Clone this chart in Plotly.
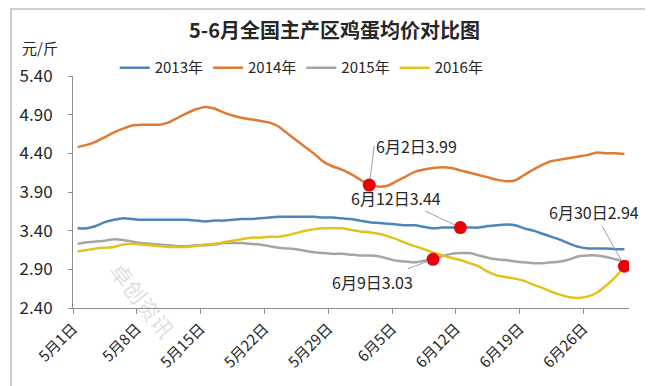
import plotly.graph_objects as go
import pandas as pd

# ---- data ----
dates = [f"{d.month}月{d.day}日" for d in pd.date_range("2016-05-01", "2016-06-30")]
tick_labels = ["5月1日", "5月8日", "5月15日", "5月22日", "5月29日",
               "6月5日", "6月12日", "6月19日", "6月26日"]
y_ticks = [2.40, 2.90, 3.40, 3.90, 4.40, 4.90, 5.40]

s2013 = [3.43, 3.43, 3.46, 3.51, 3.54, 3.56, 3.55, 3.54, 3.54, 3.54,
         3.54, 3.54, 3.54, 3.53, 3.52, 3.53, 3.53, 3.54, 3.55, 3.55,
         3.56, 3.57, 3.58, 3.58, 3.58, 3.58, 3.58, 3.57, 3.57, 3.56,
         3.55, 3.53, 3.51, 3.50, 3.49, 3.48, 3.47, 3.47, 3.45, 3.43,
         3.44, 3.44, 3.44, 3.44, 3.44, 3.46, 3.47, 3.48, 3.47, 3.43,
         3.40, 3.36, 3.32, 3.28, 3.23, 3.19, 3.17, 3.17, 3.17, 3.16,
         3.16]
s2014 = [4.48, 4.51, 4.55, 4.61, 4.67, 4.72, 4.76, 4.77, 4.77, 4.77,
         4.80, 4.86, 4.92, 4.97, 5.00, 4.98, 4.93, 4.89, 4.86, 4.84,
         4.82, 4.80, 4.75, 4.66, 4.57, 4.48, 4.39, 4.29, 4.23, 4.19,
         4.13, 4.06, 3.99, 3.97, 3.98, 4.04, 4.10, 4.16, 4.19, 4.21,
         4.22, 4.21, 4.18, 4.15, 4.12, 4.09, 4.06, 4.04, 4.05, 4.12,
         4.19, 4.25, 4.30, 4.32, 4.34, 4.36, 4.38, 4.41, 4.40, 4.40,
         4.39]
s2015 = [3.23, 3.25, 3.26, 3.27, 3.29, 3.28, 3.26, 3.24, 3.23, 3.22,
         3.21, 3.20, 3.20, 3.21, 3.21, 3.22, 3.24, 3.24, 3.24, 3.23,
         3.22, 3.20, 3.18, 3.17, 3.16, 3.14, 3.12, 3.11, 3.10, 3.10,
         3.09, 3.08, 3.08, 3.07, 3.04, 3.01, 3.00, 2.99, 3.01, 3.03,
         3.07, 3.10, 3.11, 3.11, 3.08, 3.05, 3.03, 3.02, 3.00, 2.99,
         2.98, 2.98, 2.99, 3.00, 3.03, 3.07, 3.08, 3.08, 3.06, 3.03,
         3.00]
s2016 = [3.13, 3.15, 3.17, 3.18, 3.19, 3.22, 3.23, 3.22, 3.21, 3.20,
         3.19, 3.19, 3.19, 3.20, 3.22, 3.23, 3.25, 3.27, 3.29, 3.31,
         3.31, 3.32, 3.32, 3.34, 3.37, 3.40, 3.42, 3.43, 3.43, 3.43,
         3.41, 3.39, 3.38, 3.36, 3.33, 3.29, 3.24, 3.20, 3.16, 3.12,
         3.08, 3.05, 3.02, 2.98, 2.94, 2.87, 2.82, 2.80, 2.78, 2.75,
         2.70, 2.66, 2.61, 2.57, 2.54, 2.53, 2.55, 2.60, 2.69, 2.80,
         2.94]

series = [("2013年", s2013, "#4E84BE"), ("2014年", s2014, "#E07B33"),
          ("2015年", s2015, "#A5A5A5"), ("2016年", s2016, "#E3C220")]

# highlighted points: (label text, series values, date label, text offset ax, ay, xanchor)
highlights = [("6月2日3.99", s2014, "6月2日", 5, -39, "left"),
              ("6月12日3.44", s2013, "6月12日", -64, -30, "center"),
              ("6月9日3.03", s2015, "6月9日", -61, 23, "center"),
              ("6月30日2.94", s2016, "6月30日", -30, -54, "center")]

# numeric positions of the date categories (Excel-like: points centred between ticks)
xpos = list(range(len(dates)))
tickpos = [dates.index(t) - 0.5 for t in tick_labels]

fig = go.Figure()
for name, vals, col in series:
    fig.add_trace(go.Scatter(x=xpos, y=vals, name=name, mode="lines", text=dates,
                             line=dict(color=col, width=2.5, shape="spline", smoothing=0.6)))

hx = [dates.index(h[2]) for h in highlights]
hy = [h[1][dates.index(h[2])] for h in highlights]
fig.add_trace(go.Scatter(x=hx, y=hy, mode="markers", showlegend=False,
                         marker=dict(color="#E8000B", size=13, line=dict(width=0))))

for text, vals, dlab, ax, ay, xa in highlights:
    i = dates.index(dlab)
    fig.add_annotation(x=i, y=vals[i], text=text, showarrow=True, xanchor=xa,
                       arrowhead=0, arrowwidth=1, arrowcolor="#A0A0A0", ax=ax, ay=ay,
                       standoff=6, font=dict(size=16, color="#262626"))

fig.add_annotation(xref="paper", yref="paper", x=-0.095, y=1.07, xanchor="left", yanchor="bottom",
                   text="元/斤", showarrow=False, font=dict(size=15, color="#262626"))

fig.add_annotation(xref="paper", yref="paper", x=0.05, y=-0.17, text="卓创资讯", textangle=52,
                   showarrow=False, font=dict(size=22, color="rgba(160,160,160,0.35)"))

fig.update_layout(
    width=653, height=386,
    margin=dict(l=65, r=32, t=68, b=86),
    paper_bgcolor="white", plot_bgcolor="white",
    font=dict(family="Noto Sans CJK SC, Noto Sans, sans-serif", color="#262626"),
    title=dict(text="<b>5-6月全国主产区鸡蛋均价对比图</b>", x=0.5, xanchor="center",
               y=0.94, yanchor="middle", font=dict(size=20, color="#262626")),
    legend=dict(orientation="h", x=0.075, y=1.035, xanchor="left", yanchor="middle",
                font=dict(size=15, color="#262626"), bgcolor="rgba(0,0,0,0)",
                itemwidth=30, tracegroupgap=0),
    showlegend=True,
)
fig.update_xaxes(range=[-0.5, 60.5], tickmode="array",
                 tickvals=tickpos, ticktext=tick_labels, tickangle=-45,
                 ticks="outside", ticklen=5, tickcolor="#8c8c8c",
                 showline=True, linecolor="#8c8c8c", linewidth=1,
                 showgrid=False, zeroline=False, tickfont=dict(size=15, color="#262626"))
fig.update_yaxes(range=[2.40, 5.40], tickmode="array", tickvals=y_ticks,
                 ticktext=[f"{v:.2f}" for v in y_ticks],
                 ticks="outside", ticklen=4, tickcolor="#8c8c8c", ticklabelstandoff=12,
                 showline=True, linecolor="#8c8c8c", linewidth=1,
                 showgrid=False, zeroline=False, tickfont=dict(size=17, color="#262626"))

fig.add_shape(type="rect", xref="paper", yref="paper",
              x0=-62 / 556, x1=(653 - 65 - 3) / 556, y0=-83 / 232, y1=(386 - 86 - 1) / 232,
              line=dict(color="#BFBFBF", width=1.5), fillcolor="rgba(0,0,0,0)", layer="below")

fig.write_html("out.html")
